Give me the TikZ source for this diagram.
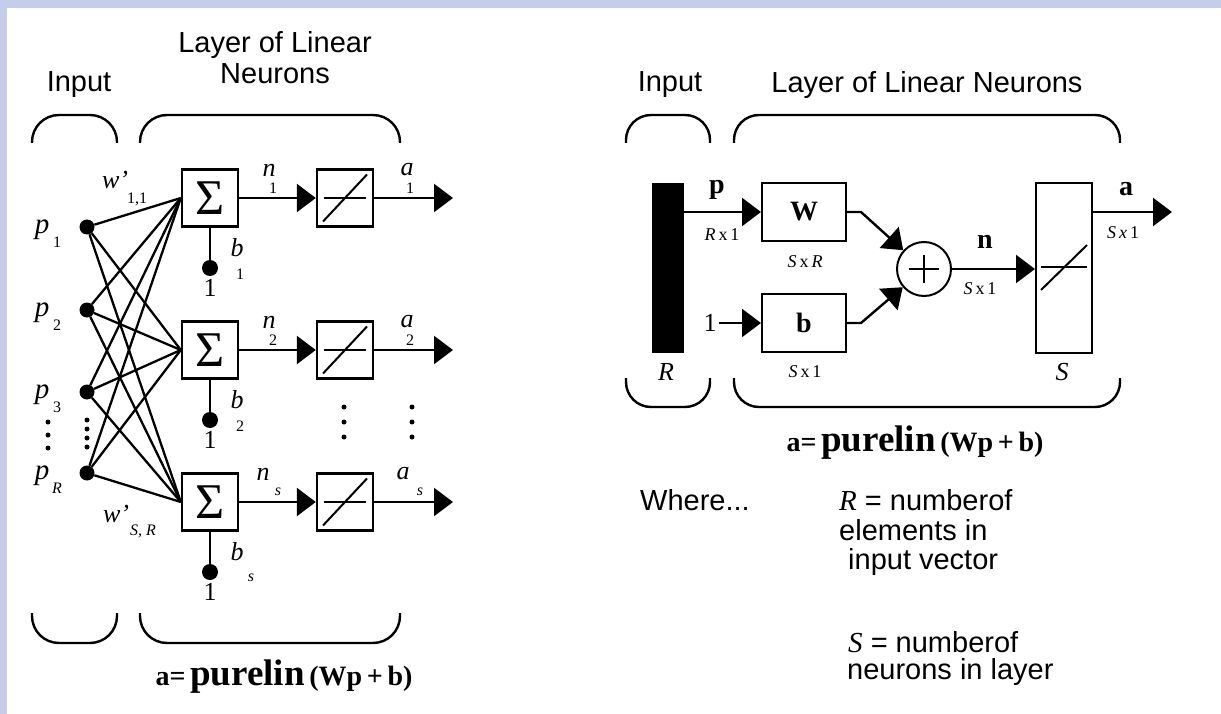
\documentclass[tikz,border=0pt]{standalone}
\usepackage{fontspec}
\setmainfont{Liberation Serif}
\newfontfamily\sansf{Liberation Sans}
\usetikzlibrary{arrows.meta,calc}
\definecolor{framebg}{RGB}{196,206,234}

\begin{document}
\begin{tikzpicture}[x=1pt,y=-1pt,
    wire/.style={line width=2.3pt},
    sig/.style={line width=2.4pt,-{Triangle[length=19pt,width=28pt]}},
    nbox/.style={draw,line width=2.4pt,minimum width=56pt,minimum height=57pt,inner sep=0pt},
    linbox/.style={nbox,path picture={
        \draw[line width=2pt] ([xshift=7pt]path picture bounding box.west) -- ([xshift=-7pt]path picture bounding box.east);
        \draw[line width=2pt] ([shift={(6pt,5pt)}]path picture bounding box.south west) -- ([shift={(-6pt,-5pt)}]path picture bounding box.north east);}},
    bigdot/.style={circle,fill,inner sep=0pt,minimum size=15pt},
    smalldot/.style={circle,fill,inner sep=0pt,minimum size=5pt},
    bracket/.style={line width=2.4pt,rounded corners=27pt},
    hdr/.style={font=\sansf\fontsize{29}{31}\selectfont,inner sep=0pt},
    var/.style={font=\itshape\fontsize{26}{26}\selectfont,inner sep=0pt},
    bvar/.style={font=\bfseries\fontsize{28}{28}\selectfont,inner sep=0pt},
    idx/.style={font=\fontsize{16}{16}\selectfont,inner sep=0pt},
    dimlab/.style={font=\fontsize{18}{18}\selectfont,inner sep=0pt}]
    \useasboundingbox (0,0) rectangle (1221,714);
    \fill[framebg] (0,0) rectangle (1221,714);
    \fill[white] (7,8) rectangle (1221,714);

    % Single-neuron view
    \draw[bracket] (32,143) -- (32,115) -- (117,115) -- (117,143);
    \draw[bracket] (140,143) -- (140,115) -- (400,115) -- (400,143);
    \draw[bracket] (32,613) -- (32,643) -- (117,643) -- (117,613);
    \draw[bracket] (140,613) -- (140,643) -- (400,643) -- (400,613);
    \node[hdr] (inL) at (79,85) {Input};
    \node[hdr,align=center] (layL) at (275,58) {Layer of Linear\\Neurons};

    \foreach \r/\y/\s/\dx in {1/198/1/0, 2/350/2/0, 3/502/{\itshape s}/1} {
        \node[nbox] (sum\r) at (210,\y) {\fontsize{50}{50}\selectfont Σ};
        \node[linbox] (lin\r) at (345,\y) {};
        \coordinate (out\r) at (453,\y);
        \draw[sig] (sum\r) -- (lin\r);
        \draw[sig] (lin\r) -- (out\r);
        \node[bigdot,minimum size=16pt] (bias\r) at (210,\y+70) {};
        \draw[line width=2.4pt] (sum\r) -- (bias\r);
        \node[font=\fontsize{26}{26}\selectfont,inner sep=0pt] (one\r) at (210,\y+90) {1};
        \node[var] (b\r) at (237,\y+50) {b};
        \node[idx] (bi\r) at ({240+11*\dx},\y+76) {\s};
        \node[var] (n\r) at ({269-6*\dx},\y-28) {n};
        \node[idx] (ni\r) at ({273+5*\dx},\y-10) {\s};
        \node[var] (a\r) at ({407-4*\dx},\y-28) {a};
        \node[idx] (ai\r) at ({410+10*\dx},\y-10) {\s};
    }

    \foreach \i/\y/\s in {1/227/1, 2/310/2, 3/392/3, R/473/{\itshape R}} {
        \node[bigdot] (in\i) at (87,\y) {};
        \node[var,font=\itshape\fontsize{29}{29}\selectfont] (p\i) at (42,\y+3) {p};
        \node[idx] (pi\i) at (57,\y+15) {\s};
        \foreach \r in {1,2,3}
            \draw[wire] (in\i) -- (sum\r.west);
    }

    \node[var] (w11) at (115,180) {w'};
    \node[idx] (w11i) at (137,199) {1,1};
    \node[var] (wSR) at (116,514) {w'};
    \node[idx] (wSRi) at (143,531) {\itshape S, R};

    \foreach \x/\ys in {48/{422,435,448}, 87/{420,429,438,447}, 344/{407,422,437}, 412/{407,422,437}}
        \foreach \y in \ys
            \node[smalldot] (vd-\x-\y) at (\x,\y) {};

    \node[inner sep=0pt] (eqL) at (284,677)
        {\bfseries\fontsize{28}{30}\selectfont a=\,{\fontsize{37}{40}\selectfont purelin}\,(Wp\,+\,b)};

    % Matrix view
    \draw[bracket,rounded corners=25pt] (626,143) -- (626,115) -- (710,115) -- (710,143);
    \draw[bracket,rounded corners=25pt] (734,143) -- (734,115) -- (1120,115) -- (1120,143);
    \draw[bracket,rounded corners=25pt] (626,378) -- (626,407) -- (710,407) -- (710,378);
    \draw[bracket,rounded corners=25pt] (734,378) -- (734,407) -- (1120,407) -- (1120,378);
    \node[hdr] (inR) at (670,85) {Input};
    \node[hdr] (layR) at (927,85) {Layer of Linear Neurons};

    \node[fill,minimum width=32pt,minimum height=170pt,inner sep=0pt] (bar) at (668,268) {};
    \node[nbox,line width=2pt,minimum width=84pt,minimum height=58pt,font=\bfseries\fontsize{28}{28}\selectfont] (wbox) at (804,212) {W};
    \node[nbox,line width=2pt,minimum width=84pt,minimum height=58pt,font=\bfseries\fontsize{28}{28}\selectfont] (bbox) at (804,323) {b};
    \node[circle,draw,line width=2pt,minimum size=54pt,inner sep=0pt] (plus) at (924,269) {};
    \draw[line width=2.4pt] ($(plus)+(-15,0)$) -- ($(plus)+(15,0)$);
    \draw[line width=2.4pt] ($(plus)+(0,-14)$) -- ($(plus)+(0,14)$);
    \node[draw,line width=2pt,minimum width=56pt,minimum height=170pt,inner sep=0pt] (sbox) at (1064,268) {};
    \draw[line width=2pt] ($(sbox)+(-23,-1)$) -- ($(sbox)+(23,-1)$);
    \draw[line width=2pt] ($(sbox)+(-23,22)$) -- ($(sbox)+(23,-23)$);

    \node[font=\fontsize{26}{26}\selectfont,inner sep=2pt] (oneR) at (710,323) {1};
    \coordinate (aout) at (1172,212);
    \draw[sig] (bar.east |- wbox) -- (wbox);
    \draw[sig] (oneR) -- (bbox);
    \draw[sig] (wbox.east) -- ++(14,0) -- (plus);
    \draw[sig] (bbox.east) -- ++(14,0) -- (plus);
    \draw[sig] (plus) -- (sbox.west |- plus);
    \draw[sig] (sbox.east |- aout) -- (aout);

    \node[bvar] (pv) at (717,190) {p};
    \node[bvar] (nv) at (985,242) {n};
    \node[bvar] (av) at (1126,189) {a};
    \node[dimlab] (dimp) at (722,235) {{\itshape R}\,x\,1};
    \node[dimlab] (dimW) at (805,262) {{\itshape S}\,x\,{\itshape R}};
    \node[dimlab] (dimb) at (805,372) {{\itshape S}\,x\,1};
    \node[dimlab] (dimn) at (980,289) {{\itshape S}\,x\,1};
    \node[dimlab] (dima) at (1123,233) {{\itshape S\,x}\,1};
    \node[var] (Rv) at (666,372) {R};
    \node[var] (Sv) at (1062,372) {S};

    \node[inner sep=0pt] (eqR) at (915,443)
        {\bfseries\fontsize{28}{30}\selectfont a=\,{\fontsize{37}{40}\selectfont purelin}\,(Wp\,+\,b)};

    \node[hdr] (where) at (695,500) {Where...};
    \node[hdr,anchor=west] (defR1) at (839,500) {{\rmfamily\itshape R} = numberof};
    \node[hdr,anchor=west] (defR2) at (839,530) {elements in};
    \node[hdr,anchor=west] (defR3) at (848,562) {input vector};
    \node[hdr,anchor=west] (defS1) at (848,642) {{\rmfamily\itshape S} = numberof};
    \node[hdr,anchor=west] (defS2) at (847,672) {neurons in layer};
\end{tikzpicture}
\end{document}
